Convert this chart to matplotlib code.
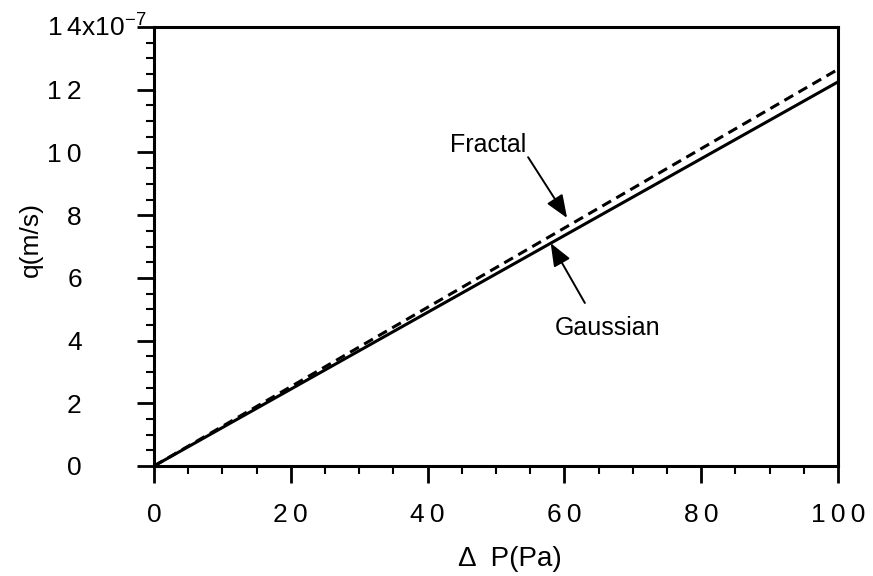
import numpy as np
import matplotlib.pyplot as plt
from matplotlib.ticker import MultipleLocator

plt.rcParams['font.family'] = ['Liberation Sans', 'DejaVu Sans']

# pressure drop (Pa) and flow rate q (units of 1e-7 m/s)
dp = [0, 20, 40, 60, 80, 100]
q_gaussian = [0, 2.45, 4.90, 7.35, 9.80, 12.25]
q_fractal = [0, 2.53, 5.06, 7.59, 10.12, 12.65]

x_ticks = [0, 20, 40, 60, 80, 100]
y_ticks = [0, 2, 4, 6, 8, 10, 12, 14]


def spaced(v):
    # a bit of letter spacing between the digits
    return '\u2009'.join(str(v))


fig = plt.figure(figsize=(8.73, 5.76), dpi=100)
ax = fig.add_axes([0.1764, 0.191, 0.7834, 0.762])

ax.plot(dp, q_gaussian, color='black', lw=2.2, solid_capstyle='butt')
ax.plot(dp, q_fractal, color='black', lw=2.2, dashes=(3.3, 2.0))

ax.set_xlim(0, 100)
ax.set_ylim(0, 14)

ax.set_xticks(x_ticks)
ax.set_xticklabels([spaced(v) for v in x_ticks])
ax.xaxis.set_minor_locator(MultipleLocator(5))
ax.set_yticks(y_ticks)
ax.set_yticklabels([spaced(v) for v in y_ticks[:-1]] + [''])
ax.yaxis.set_minor_locator(MultipleLocator(0.5))

ax.tick_params(which='major', direction='out', length=12, width=2, labelsize=19)
ax.tick_params(which='minor', direction='out', length=6, width=1.5)
ax.tick_params(axis='y', which='major', pad=40)
ax.tick_params(axis='x', which='major', pad=15)
for s in ax.spines.values():
    s.set_linewidth(2.2)

# top label carries the scale factor
ax.text(-0.1564, 14, spaced(14) + r'x10$^{\mathregular{-7}}$', fontsize=19,
        ha='left', va='center', transform=ax.get_yaxis_transform())

ax.set_ylabel('q(m/s)', fontsize=19)
ax.yaxis.set_label_coords(-0.163, 0.515)
ax.set_xlabel('\u0394  P(Pa)', fontsize=20)
ax.xaxis.set_label_coords(0.5197, -0.183)

arrow = dict(arrowstyle='-|>,head_length=0.7,head_width=0.28',
             color='black', lw=1.4, mutation_scale=20, shrinkA=0, shrinkB=0)
ax.text(43.3, 10.01, 'Fractal', fontsize=18, ha='left', va='baseline')
ax.annotate('', xy=(60.4, 7.91), xytext=(54.7, 9.85), arrowprops=arrow)
ax.text(58.6, 4.18, 'Gaussian', fontsize=18, ha='left', va='baseline')
ax.annotate('', xy=(58.0, 7.11), xytext=(63.0, 5.20), arrowprops=arrow)

fig.savefig('out.png', dpi=100)
